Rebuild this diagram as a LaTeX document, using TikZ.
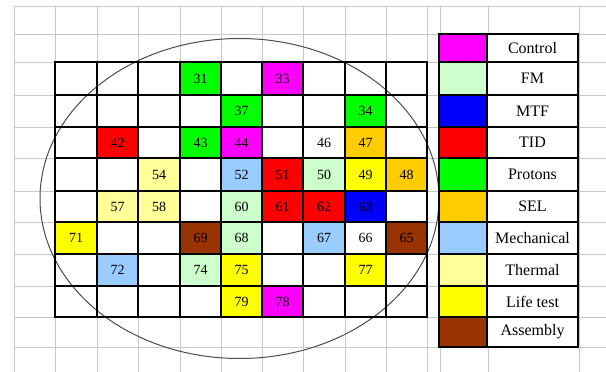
\documentclass[tikz,border=0pt]{standalone}
\usepackage{fontspec}
\setmainfont{Liberation Serif}
\usetikzlibrary{fit}
\definecolor{cCtrl}{HTML}{FF00FF}
\definecolor{cFM}{HTML}{CCFFCC}
\definecolor{cMTF}{HTML}{0000FF}
\definecolor{cTID}{HTML}{FF0000}
\definecolor{cProt}{HTML}{00FF00}
\definecolor{cSEL}{HTML}{FFCC00}
\definecolor{cMech}{HTML}{99CCFF}
\definecolor{cTherm}{HTML}{FFFF99}
\definecolor{cLife}{HTML}{FFFF00}
\definecolor{cAsm}{HTML}{993300}
\definecolor{gridgray}{HTML}{C8C8C8}
\newcommand\mycell[5]{%
  \pgfmathtruncatemacro\nxc{#2+1}\pgfmathtruncatemacro\nxr{#3+1}%
  \node[cellbox, fill=#4, fit={(c#2|-r#3)(c\nxc|-r\nxr)}] (#1) {};
  \node[numtext] (#1-t) at (#1.center) {#5};}
\newcommand\mylegend[4]{%
  \pgfmathtruncatemacro\nxr{#2+1}%
  \node[cellbox, fill=#3, fit={(l0|-m#2)(l1|-m\nxr)}] (sw#1) {};
  \node[cellbox, fill=white, fit={(l1|-m#2)(l2|-m\nxr)}] (lg#1) {};
  \node[legtext] (lg#1-t) at (lg#1.center) {#4};}
\begin{document}
\begin{tikzpicture}[x=1pt,y=-1pt,
  cellbox/.style={inner sep=0pt, outer sep=0pt, draw=none},
  numtext/.style={inner sep=0pt, font=\fontsize{14}{16}\selectfont},
  legtext/.style={inner sep=0pt, font=\fontsize{16}{18}\selectfont},
  bgline/.style={draw=gridgray, line width=1pt},
  tabline/.style={draw=black, line width=2.6pt, line cap=rect},
  waferline/.style={draw=black!70, line width=1pt}]
\useasboundingbox (0,0) rectangle (606,372);
\fill[white] (0,0) rectangle (606,372);
% background grid
\foreach \x in {14,55,97,138,180,221,262,303,345,386,427,440,488,579}
  \draw[bgline] (\x,6) -- (\x,372);
\foreach \y in {6,34,62,95,127,158,191,222,254,286,317,347}
  \draw[bgline] (14,\y) -- (606,\y);
% table coordinates
\foreach \x [count=\i from 0] in {55,97,138,180,221,262,303,345,386,427}
  \coordinate (c\i) at (\x,0);
\foreach \y [count=\i from 0] in {62,95,127,158,191,222,254,286,317}
  \coordinate (r\i) at (0,\y);
\fill[white] (c0|-r0) rectangle (c9|-r8);
% cells
\mycell{n31}{3}{0}{cProt}{31}
\mycell{n33}{5}{0}{cCtrl}{33}
\mycell{n37}{4}{1}{cProt}{37}
\mycell{n34}{7}{1}{cProt}{34}
\mycell{n42}{1}{2}{cTID}{42}
\mycell{n43}{3}{2}{cProt}{43}
\mycell{n44}{4}{2}{cCtrl}{44}
\mycell{n46}{6}{2}{white}{46}
\mycell{n47}{7}{2}{cSEL}{47}
\mycell{n54}{2}{3}{cTherm}{54}
\mycell{n52}{4}{3}{cMech}{52}
\mycell{n51}{5}{3}{cTID}{51}
\mycell{n50}{6}{3}{cFM}{50}
\mycell{n49}{7}{3}{cLife}{49}
\mycell{n48}{8}{3}{cSEL}{48}
\mycell{n57}{1}{4}{cTherm}{57}
\mycell{n58}{2}{4}{cTherm}{58}
\mycell{n60}{4}{4}{cFM}{60}
\mycell{n61}{5}{4}{cTID}{61}
\mycell{n62}{6}{4}{cTID}{62}
\mycell{n63}{7}{4}{cMTF}{63}
\mycell{n71}{0}{5}{cLife}{71}
\mycell{n69}{3}{5}{cAsm}{69}
\mycell{n68}{4}{5}{cFM}{68}
\mycell{n67}{6}{5}{cMech}{67}
\mycell{n66}{7}{5}{white}{66}
\mycell{n65}{8}{5}{cAsm}{65}
\mycell{n72}{1}{6}{cMech}{72}
\mycell{n74}{3}{6}{cFM}{74}
\mycell{n75}{4}{6}{cLife}{75}
\mycell{n77}{7}{6}{cLife}{77}
\mycell{n79}{4}{7}{cLife}{79}
\mycell{n78}{5}{7}{cCtrl}{78}
% wafer outline
\draw[waferline] (239.5,198.5) ellipse [x radius=199.5pt, y radius=160pt];
% table lines
\foreach \i in {0,...,9} \draw[tabline] (c\i|-r0) -- (c\i|-r8);
\foreach \j in {0,...,8} \draw[tabline] (c0|-r\j) -- (c9|-r\j);
% legend
\foreach \x [count=\i from 0] in {439,487,578} \coordinate (l\i) at (\x,0);
\foreach \y [count=\i from 0] in {34,62,95,127,158,191,222,254,286,317,347}
  \coordinate (m\i) at (0,\y);
\mylegend{a}{0}{cCtrl}{Control}
\mylegend{b}{1}{cFM}{FM}
\mylegend{c}{2}{cMTF}{MTF}
\mylegend{d}{3}{cTID}{TID}
\mylegend{e}{4}{cProt}{Protons}
\mylegend{f}{5}{cSEL}{SEL}
\mylegend{g}{6}{cMech}{Mechanical}
\mylegend{h}{7}{cTherm}{Thermal}
\mylegend{i}{8}{cLife}{Life test}
\mylegend{j}{9}{cAsm}{Assembly}
\foreach \i in {0,1,2} \draw[tabline] (l\i|-m0) -- (l\i|-m10);
\foreach \j in {0,...,10} \draw[tabline] (l0|-m\j) -- (l2|-m\j);
\end{tikzpicture}
\end{document}
